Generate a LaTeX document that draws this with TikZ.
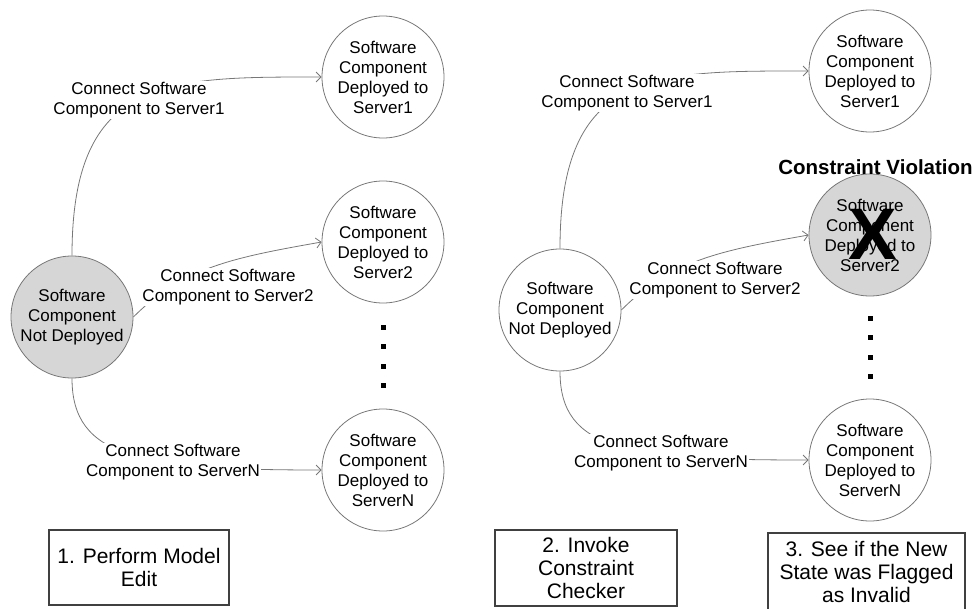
\documentclass[tikz,border=0pt]{standalone}
\usepackage{fontspec}
\setmainfont{Liberation Sans}
\usetikzlibrary{arrows.meta}
\definecolor{stategray}{HTML}{D6D6D6}
\definecolor{edgegray}{HTML}{777777}
\tikzset{
  state/.style={circle, draw=edgegray, line width=0.8pt, minimum size=122pt, inner sep=0pt, align=center, font=\fontsize{17}{20}\selectfont},
  edit/.style={draw=edgegray, line width=0.8pt, -{Straight Barb[length=5pt,width=10pt]}},
  lbl/.style={fill=white, inner sep=1.5pt, align=center, font=\fontsize{17}{20}\selectfont},
  stepbox/.style={draw=black!75, line width=1.2pt, align=center, font=\fontsize{21}{23}\selectfont}
}
\begin{document}
\begin{tikzpicture}[x=1pt, y=-1pt]
\useasboundingbox (0,0) rectangle (977,608);
% 1. model edit
\node[state, fill=stategray] (nd1) at (72,317) {Software\\Component\\Not Deployed};
\node[state] (s1) at (383,77) {Software\\Component\\Deployed to\\Server1};
\node[state] (s2) at (383,242) {Software\\Component\\Deployed to\\Server2};
\node[state] (sN) at (383,470) {Software\\Component\\Deployed to\\ServerN};
\draw[edit] (nd1.north) to[out=90, in=180, out distance=180pt, in distance=155pt] (s1.west);
\draw[edit] (nd1.east) to[out=45, in=190, out distance=70pt, in distance=90pt] (s2.west);
\draw[edit] (nd1.south) to[out=-90, in=180, out distance=80pt, in distance=180pt] (sN.west);
\node[lbl] (e1) at (139,100) {Connect Software\\Component to Server1};
\node[lbl] (e2) at (228,287) {Connect Software\\Component to Server2};
\node[lbl] (eN) at (173,462) {Connect Software\\Component to ServerN};
% 2. constraint checker
\node[state] (nd2) at (560,310) {Software\\Component\\Not Deployed};
\node[state] (r1) at (870,71) {Software\\Component\\Deployed to\\Server1};
\node[state, fill=stategray] (r2) at (870,235) {Software\\Component\\Deployed to\\Server2};
\node[state] (rN) at (870,460) {Software\\Component\\Deployed to\\ServerN};
\draw[edit] (nd2.north) to[out=90, in=180, out distance=180pt, in distance=155pt] (r1.west);
\draw[edit] (nd2.east) to[out=45, in=190, out distance=70pt, in distance=90pt] (r2.west);
\draw[edit] (nd2.south) to[out=-90, in=180, out distance=80pt, in distance=180pt] (rN.west);
\node[lbl] (f1) at (627,93) {Connect Software\\Component to Server1};
\node[lbl] (f2) at (715,280) {Connect Software\\Component to Server2};
\node[lbl] (fN) at (661,453) {Connect Software\\Component to ServerN};
% 3. violation
\node[font=\fontsize{20.5}{24}\selectfont\bfseries] (cv) at (875.5,167) {Constraint Violation};
\node[inner sep=0pt, font=\fontsize{73}{73}\selectfont\bfseries] (cross) at (873,234) {X};
\foreach \i in {0,1,2,3}
{
	\fill (380.5,324.5+19.5*\i) rectangle ++(5,5);
	\fill (867.5,315.5+19.5*\i) rectangle ++(5,5);
}
\node[stepbox, minimum width=180pt, minimum height=75pt] (b1) at (139,567.5) {1. Perform Model\\Edit};
\node[stepbox, minimum width=182pt, minimum height=76pt] (b2) at (586,568) {2. Invoke\\Constraint\\Checker};
\node[stepbox, minimum width=197pt, minimum height=78pt] (b3) at (866.5,572) {3. See if the New\\State was Flagged\\as Invalid};
\end{tikzpicture}
\end{document}
